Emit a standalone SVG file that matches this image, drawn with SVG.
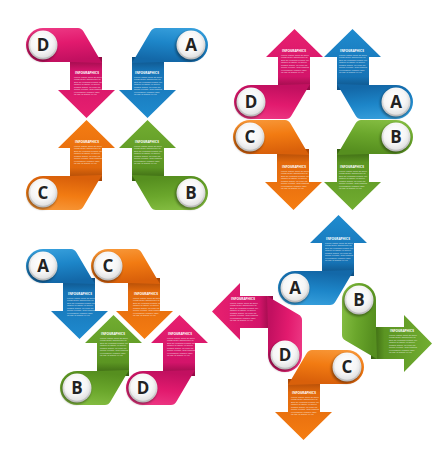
<svg xmlns="http://www.w3.org/2000/svg" width="443" height="450" viewBox="0 0 443 450">
<style>
.lt{font-family:"Open Sans","Liberation Sans",sans-serif;font-weight:700;font-size:17px;fill:#222;text-anchor:middle}
.hd{font-family:"Open Sans","Liberation Sans",sans-serif;font-weight:700;font-size:3.2px;fill:#fff;text-anchor:middle}
.bd{font-family:"Liberation Sans",sans-serif;font-size:2.3px;fill:#fff;fill-opacity:.8}
.ring{fill:url(#ring)}
.inner{fill:url(#inner)}
.sh{fill:#000;opacity:.35;filter:url(#blur)}
</style>
<defs>
<filter id="blur" x="-50%" y="-50%" width="200%" height="200%"><feGaussianBlur stdDeviation="1.3"/></filter>
<linearGradient id="ring" x1="0" y1="0" x2="0" y2="1"><stop offset="0" stop-color="#fafafa"/><stop offset="1" stop-color="#b9b9b9"/></linearGradient>
<radialGradient id="inner" cx=".45" cy=".35" r=".7"><stop offset="0" stop-color="#ffffff"/><stop offset=".6" stop-color="#f6f6f6"/><stop offset="1" stop-color="#dcdcdc"/></radialGradient>
<linearGradient id="bPink" x1="0" y1="0" x2="0.2" y2="1"><stop offset="0" stop-color="#ee3b86"/><stop offset=".5" stop-color="#e21a6e"/><stop offset="1" stop-color="#c21060"/></linearGradient>
<linearGradient id="sPink" x1="0" y1="0" x2="0" y2="1"><stop offset="0" stop-color="#8e0a42"/><stop offset=".22" stop-color="#d3146a"/><stop offset="1" stop-color="#e8206f"/></linearGradient>
<linearGradient id="bBlue" x1="0" y1="0" x2="0.2" y2="1"><stop offset="0" stop-color="#3aa2de"/><stop offset=".5" stop-color="#1d86c9"/><stop offset="1" stop-color="#1368a8"/></linearGradient>
<linearGradient id="sBlue" x1="0" y1="0" x2="0" y2="1"><stop offset="0" stop-color="#0d4d80"/><stop offset=".22" stop-color="#1673b5"/><stop offset="1" stop-color="#1f8bcf"/></linearGradient>
<linearGradient id="bOrange" x1="0" y1="0" x2="0.2" y2="1"><stop offset="0" stop-color="#f89a3c"/><stop offset=".5" stop-color="#f27b12"/><stop offset="1" stop-color="#d9600a"/></linearGradient>
<linearGradient id="sOrange" x1="0" y1="0" x2="0" y2="1"><stop offset="0" stop-color="#a34406"/><stop offset=".22" stop-color="#e2690c"/><stop offset="1" stop-color="#f57d12"/></linearGradient>
<linearGradient id="bGreen" x1="0" y1="0" x2="0.2" y2="1"><stop offset="0" stop-color="#88c045"/><stop offset=".5" stop-color="#6ba72c"/><stop offset="1" stop-color="#568f1f"/></linearGradient>
<linearGradient id="sGreen" x1="0" y1="0" x2="0" y2="1"><stop offset="0" stop-color="#365f10"/><stop offset=".22" stop-color="#5b9522"/><stop offset="1" stop-color="#72ad31"/></linearGradient>
<path id="b44" d="M0,-17 L35,-17 Q38.5,-17 40.5,-13.5 L59,18 L27,17 L0,17 A17,17 0 0 1 0,-17 Z"/>
<path id="s44" d="M27,12 L59,12 L59,45 L72,45 L43.5,73 L15,45 L27,45 Z"/>
<path id="b37" d="M0,-17 L28,-17 Q31.5,-17 33.5,-13.5 L52,18 L20,17 L0,17 A17,17 0 0 1 0,-17 Z"/>
<path id="s37" d="M20,12 L52,12 L52,45 L65,45 L36.5,73 L8,45 L20,45 Z"/>
</defs>
<rect width="443" height="450" fill="#fff"/>

<g id="c1-D">
<use href="#s44" fill="url(#sPink)" transform="translate(43,45)"/>
<use href="#b44" fill="url(#bPink)" transform="translate(43,45)"/>
<circle class="sh" cx="42" cy="46.5" r="15"/><circle class="ring" cx="43" cy="45" r="14.5"/><circle class="inner" cx="43" cy="45" r="12.8"/>
<text class="lt" x="43" y="51">D</text>
<text class="hd" x="87" y="74">INFOGRAPHICS</text>
<text class="bd"><tspan x="74" y="77.5">Lorem ipsum dolor sit amet,</tspan><tspan x="74" y="80">consectetur adipiscing elit.</tspan><tspan x="74" y="82.5">Sed do eiusmod tempor inc-</tspan><tspan x="74" y="85">ididunt ut labore et dolore</tspan><tspan x="74" y="87.5">magna aliqua. Ut enim ad</tspan><tspan x="74" y="90">minim veniam, quis nostrud</tspan><tspan x="74" y="92.5">exercitation ullamco labo-</tspan><tspan x="74" y="95">ris nisi ut aliquip ex ea.</tspan></text>
</g>

<g id="c1-A">
<use href="#s44" fill="url(#sBlue)" transform="translate(191,45) scale(-1,1)"/>
<use href="#b44" fill="url(#bBlue)" transform="translate(191,45) scale(-1,1)"/>
<circle class="sh" cx="190" cy="46.5" r="15"/><circle class="ring" cx="191" cy="45" r="14.5"/><circle class="inner" cx="191" cy="45" r="12.8"/>
<text class="lt" x="191" y="51">A</text>
<text class="hd" x="147" y="74">INFOGRAPHICS</text>
<text class="bd"><tspan x="134" y="77.5">Lorem ipsum dolor sit amet,</tspan><tspan x="134" y="80">consectetur adipiscing elit.</tspan><tspan x="134" y="82.5">Sed do eiusmod tempor inc-</tspan><tspan x="134" y="85">ididunt ut labore et dolore</tspan><tspan x="134" y="87.5">magna aliqua. Ut enim ad</tspan><tspan x="134" y="90">minim veniam, quis nostrud</tspan><tspan x="134" y="92.5">exercitation ullamco labo-</tspan><tspan x="134" y="95">ris nisi ut aliquip ex ea.</tspan></text>
</g>

<g id="c1-C">
<use href="#s44" fill="url(#sOrange)" transform="translate(43,193) scale(1,-1)"/>
<use href="#b44" fill="url(#bOrange)" transform="translate(43,193) scale(1,-1)"/>
<circle class="sh" cx="42" cy="194.5" r="15"/><circle class="ring" cx="43" cy="193" r="14.5"/><circle class="inner" cx="43" cy="193" r="12.8"/>
<text class="lt" x="43" y="199">C</text>
<text class="hd" x="87" y="143">INFOGRAPHICS</text>
<text class="bd"><tspan x="74" y="146.5">Lorem ipsum dolor sit amet,</tspan><tspan x="74" y="149">consectetur adipiscing elit.</tspan><tspan x="74" y="151.5">Sed do eiusmod tempor inc-</tspan><tspan x="74" y="154">ididunt ut labore et dolore</tspan><tspan x="74" y="156.5">magna aliqua. Ut enim ad</tspan><tspan x="74" y="159">minim veniam, quis nostrud</tspan><tspan x="74" y="161.5">exercitation ullamco labo-</tspan><tspan x="74" y="164">ris nisi ut aliquip ex ea.</tspan></text>
</g>

<g id="c1-B">
<use href="#s44" fill="url(#sGreen)" transform="translate(191,193) scale(-1,-1)"/>
<use href="#b44" fill="url(#bGreen)" transform="translate(191,193) scale(-1,-1)"/>
<circle class="sh" cx="190" cy="194.5" r="15"/><circle class="ring" cx="191" cy="193" r="14.5"/><circle class="inner" cx="191" cy="193" r="12.8"/>
<text class="lt" x="191" y="199">B</text>
<text class="hd" x="147" y="143">INFOGRAPHICS</text>
<text class="bd"><tspan x="134" y="146.5">Lorem ipsum dolor sit amet,</tspan><tspan x="134" y="149">consectetur adipiscing elit.</tspan><tspan x="134" y="151.5">Sed do eiusmod tempor inc-</tspan><tspan x="134" y="154">ididunt ut labore et dolore</tspan><tspan x="134" y="156.5">magna aliqua. Ut enim ad</tspan><tspan x="134" y="159">minim veniam, quis nostrud</tspan><tspan x="134" y="161.5">exercitation ullamco labo-</tspan><tspan x="134" y="164">ris nisi ut aliquip ex ea.</tspan></text>
</g>

<g id="c2-D">
<use href="#s44" fill="url(#sPink)" transform="translate(251,102) scale(1,-1)"/>
<use href="#b44" fill="url(#bPink)" transform="translate(251,102) scale(1,-1)"/>
<circle class="sh" cx="250" cy="103.5" r="15"/><circle class="ring" cx="251" cy="102" r="14.5"/><circle class="inner" cx="251" cy="102" r="12.8"/>
<text class="lt" x="251" y="108">D</text>
<text class="hd" x="294" y="52">INFOGRAPHICS</text>
<text class="bd"><tspan x="281" y="55.5">Lorem ipsum dolor sit amet,</tspan><tspan x="281" y="58">consectetur adipiscing elit.</tspan><tspan x="281" y="60.5">Sed do eiusmod tempor inc-</tspan><tspan x="281" y="63">ididunt ut labore et dolore</tspan><tspan x="281" y="65.5">magna aliqua. Ut enim ad</tspan><tspan x="281" y="68">minim veniam, quis nostrud</tspan><tspan x="281" y="70.5">exercitation ullamco labo-</tspan><tspan x="281" y="73">ris nisi ut aliquip ex ea.</tspan></text>
</g>

<g id="c2-A">
<use href="#s44" fill="url(#sBlue)" transform="translate(396,102) scale(-1,-1)"/>
<use href="#b44" fill="url(#bBlue)" transform="translate(396,102) scale(-1,-1)"/>
<circle class="sh" cx="395" cy="103.5" r="15"/><circle class="ring" cx="396" cy="102" r="14.5"/><circle class="inner" cx="396" cy="102" r="12.8"/>
<text class="lt" x="396" y="108">A</text>
<text class="hd" x="352" y="52">INFOGRAPHICS</text>
<text class="bd"><tspan x="339" y="55.5">Lorem ipsum dolor sit amet,</tspan><tspan x="339" y="58">consectetur adipiscing elit.</tspan><tspan x="339" y="60.5">Sed do eiusmod tempor inc-</tspan><tspan x="339" y="63">ididunt ut labore et dolore</tspan><tspan x="339" y="65.5">magna aliqua. Ut enim ad</tspan><tspan x="339" y="68">minim veniam, quis nostrud</tspan><tspan x="339" y="70.5">exercitation ullamco labo-</tspan><tspan x="339" y="73">ris nisi ut aliquip ex ea.</tspan></text>
</g>

<g id="c2-C">
<use href="#s44" fill="url(#sOrange)" transform="translate(250,137)"/>
<use href="#b44" fill="url(#bOrange)" transform="translate(250,137)"/>
<circle class="sh" cx="249" cy="138.5" r="15"/><circle class="ring" cx="250" cy="137" r="14.5"/><circle class="inner" cx="250" cy="137" r="12.8"/>
<text class="lt" x="250" y="143">C</text>
<text class="hd" x="294" y="168">INFOGRAPHICS</text>
<text class="bd"><tspan x="281" y="171.5">Lorem ipsum dolor sit amet,</tspan><tspan x="281" y="174">consectetur adipiscing elit.</tspan><tspan x="281" y="176.5">Sed do eiusmod tempor inc-</tspan><tspan x="281" y="179">ididunt ut labore et dolore</tspan><tspan x="281" y="181.5">magna aliqua. Ut enim ad</tspan><tspan x="281" y="184">minim veniam, quis nostrud</tspan><tspan x="281" y="186.5">exercitation ullamco labo-</tspan><tspan x="281" y="189">ris nisi ut aliquip ex ea.</tspan></text>
</g>

<g id="c2-B">
<use href="#s44" fill="url(#sGreen)" transform="translate(396,137) scale(-1,1)"/>
<use href="#b44" fill="url(#bGreen)" transform="translate(396,137) scale(-1,1)"/>
<circle class="sh" cx="395" cy="138.5" r="15"/><circle class="ring" cx="396" cy="137" r="14.5"/><circle class="inner" cx="396" cy="137" r="12.8"/>
<text class="lt" x="396" y="143">B</text>
<text class="hd" x="352" y="168">INFOGRAPHICS</text>
<text class="bd"><tspan x="339" y="171.5">Lorem ipsum dolor sit amet,</tspan><tspan x="339" y="174">consectetur adipiscing elit.</tspan><tspan x="339" y="176.5">Sed do eiusmod tempor inc-</tspan><tspan x="339" y="179">ididunt ut labore et dolore</tspan><tspan x="339" y="181.5">magna aliqua. Ut enim ad</tspan><tspan x="339" y="184">minim veniam, quis nostrud</tspan><tspan x="339" y="186.5">exercitation ullamco labo-</tspan><tspan x="339" y="189">ris nisi ut aliquip ex ea.</tspan></text>
</g>

<g id="c3-A">
<use href="#s37" fill="url(#sBlue)" transform="translate(43,266)"/>
<use href="#b37" fill="url(#bBlue)" transform="translate(43,266)"/>
<circle class="sh" cx="42" cy="267.5" r="15"/><circle class="ring" cx="43" cy="266" r="14.5"/><circle class="inner" cx="43" cy="266" r="12.8"/>
<text class="lt" x="43" y="272">A</text>
<text class="hd" x="80" y="295">INFOGRAPHICS</text>
<text class="bd"><tspan x="67" y="298.5">Lorem ipsum dolor sit amet,</tspan><tspan x="67" y="301">consectetur adipiscing elit.</tspan><tspan x="67" y="303.5">Sed do eiusmod tempor inc-</tspan><tspan x="67" y="306">ididunt ut labore et dolore</tspan><tspan x="67" y="308.5">magna aliqua. Ut enim ad</tspan><tspan x="67" y="311">minim veniam, quis nostrud</tspan><tspan x="67" y="313.5">exercitation ullamco labo-</tspan><tspan x="67" y="316">ris nisi ut aliquip ex ea.</tspan></text>
</g>

<g id="c3-C">
<use href="#s37" fill="url(#sOrange)" transform="translate(108,266)"/>
<use href="#b37" fill="url(#bOrange)" transform="translate(108,266)"/>
<circle class="sh" cx="107" cy="267.5" r="15"/><circle class="ring" cx="108" cy="266" r="14.5"/><circle class="inner" cx="108" cy="266" r="12.8"/>
<text class="lt" x="108" y="272">C</text>
<text class="hd" x="146" y="295">INFOGRAPHICS</text>
<text class="bd"><tspan x="133" y="298.5">Lorem ipsum dolor sit amet,</tspan><tspan x="133" y="301">consectetur adipiscing elit.</tspan><tspan x="133" y="303.5">Sed do eiusmod tempor inc-</tspan><tspan x="133" y="306">ididunt ut labore et dolore</tspan><tspan x="133" y="308.5">magna aliqua. Ut enim ad</tspan><tspan x="133" y="311">minim veniam, quis nostrud</tspan><tspan x="133" y="313.5">exercitation ullamco labo-</tspan><tspan x="133" y="316">ris nisi ut aliquip ex ea.</tspan></text>
</g>

<g id="c3-B">
<use href="#s37" fill="url(#sGreen)" transform="translate(77,388) scale(1,-1)"/>
<use href="#b37" fill="url(#bGreen)" transform="translate(77,388) scale(1,-1)"/>
<circle class="sh" cx="76" cy="389.5" r="15"/><circle class="ring" cx="77" cy="388" r="14.5"/><circle class="inner" cx="77" cy="388" r="12.8"/>
<text class="lt" x="77" y="394">B</text>
<text class="hd" x="113" y="335">INFOGRAPHICS</text>
<text class="bd"><tspan x="100" y="338.5">Lorem ipsum dolor sit amet,</tspan><tspan x="100" y="341">consectetur adipiscing elit.</tspan><tspan x="100" y="343.5">Sed do eiusmod tempor inc-</tspan><tspan x="100" y="346">ididunt ut labore et dolore</tspan><tspan x="100" y="348.5">magna aliqua. Ut enim ad</tspan><tspan x="100" y="351">minim veniam, quis nostrud</tspan><tspan x="100" y="353.5">exercitation ullamco labo-</tspan><tspan x="100" y="356">ris nisi ut aliquip ex ea.</tspan></text>
</g>

<g id="c3-D">
<use href="#s37" fill="url(#sPink)" transform="translate(143,388) scale(1,-1)"/>
<use href="#b37" fill="url(#bPink)" transform="translate(143,388) scale(1,-1)"/>
<circle class="sh" cx="142" cy="389.5" r="15"/><circle class="ring" cx="143" cy="388" r="14.5"/><circle class="inner" cx="143" cy="388" r="12.8"/>
<text class="lt" x="143" y="394">D</text>
<text class="hd" x="180" y="335">INFOGRAPHICS</text>
<text class="bd"><tspan x="167" y="338.5">Lorem ipsum dolor sit amet,</tspan><tspan x="167" y="341">consectetur adipiscing elit.</tspan><tspan x="167" y="343.5">Sed do eiusmod tempor inc-</tspan><tspan x="167" y="346">ididunt ut labore et dolore</tspan><tspan x="167" y="348.5">magna aliqua. Ut enim ad</tspan><tspan x="167" y="351">minim veniam, quis nostrud</tspan><tspan x="167" y="353.5">exercitation ullamco labo-</tspan><tspan x="167" y="356">ris nisi ut aliquip ex ea.</tspan></text>
</g>

<g id="c4-A">
<use href="#s44" fill="url(#sBlue)" transform="translate(295,288) scale(1,-1)"/>
<use href="#b44" fill="url(#bBlue)" transform="translate(295,288) scale(1,-1)"/>
<circle class="sh" cx="294" cy="289.5" r="15"/><circle class="ring" cx="295" cy="288" r="14.5"/><circle class="inner" cx="295" cy="288" r="12.8"/>
<text class="lt" x="295" y="294">A</text>
<text class="hd" x="338" y="240">INFOGRAPHICS</text>
<text class="bd"><tspan x="325" y="243.5">Lorem ipsum dolor sit amet,</tspan><tspan x="325" y="246">consectetur adipiscing elit.</tspan><tspan x="325" y="248.5">Sed do eiusmod tempor inc-</tspan><tspan x="325" y="251">ididunt ut labore et dolore</tspan><tspan x="325" y="253.5">magna aliqua. Ut enim ad</tspan><tspan x="325" y="256">minim veniam, quis nostrud</tspan><tspan x="325" y="258.5">exercitation ullamco labo-</tspan><tspan x="325" y="261">ris nisi ut aliquip ex ea.</tspan></text>
</g>

<g id="c4-D">
<use href="#s44" fill="url(#sPink)" transform="matrix(0,-1,-1,0,285,355)"/>
<use href="#b44" fill="url(#bPink)" transform="matrix(0,-1,-1,0,285,355)"/>
<circle class="sh" cx="284" cy="356.5" r="15"/><circle class="ring" cx="285" cy="355" r="14.5"/><circle class="inner" cx="285" cy="355" r="12.8"/>
<text class="lt" x="285" y="361">D</text>
<text class="hd" x="243" y="300">INFOGRAPHICS</text>
<text class="bd"><tspan x="230" y="303.5">Lorem ipsum dolor sit amet,</tspan><tspan x="230" y="306">consectetur adipiscing elit.</tspan><tspan x="230" y="308.5">Sed do eiusmod tempor inc-</tspan><tspan x="230" y="311">ididunt ut labore et dolore</tspan><tspan x="230" y="313.5">magna aliqua. Ut enim ad</tspan><tspan x="230" y="316">minim veniam, quis nostrud</tspan><tspan x="230" y="318.5">exercitation ullamco labo-</tspan><tspan x="230" y="321">ris nisi ut aliquip ex ea.</tspan></text>
</g>

<g id="c4-C">
<use href="#s44" fill="url(#sOrange)" transform="translate(347,367) scale(-1,1)"/>
<use href="#b44" fill="url(#bOrange)" transform="translate(347,367) scale(-1,1)"/>
<circle class="sh" cx="346" cy="368.5" r="15"/><circle class="ring" cx="347" cy="367" r="14.5"/><circle class="inner" cx="347" cy="367" r="12.8"/>
<text class="lt" x="347" y="373">C</text>
<text class="hd" x="304" y="394">INFOGRAPHICS</text>
<text class="bd"><tspan x="291" y="397.5">Lorem ipsum dolor sit amet,</tspan><tspan x="291" y="400">consectetur adipiscing elit.</tspan><tspan x="291" y="402.5">Sed do eiusmod tempor inc-</tspan><tspan x="291" y="405">ididunt ut labore et dolore</tspan><tspan x="291" y="407.5">magna aliqua. Ut enim ad</tspan><tspan x="291" y="410">minim veniam, quis nostrud</tspan><tspan x="291" y="412.5">exercitation ullamco labo-</tspan><tspan x="291" y="415">ris nisi ut aliquip ex ea.</tspan></text>
</g>

<g id="c4-B">
<use href="#s44" fill="url(#sGreen)" transform="matrix(0,1,1,0,359,300)"/>
<use href="#b44" fill="url(#bGreen)" transform="matrix(0,1,1,0,359,300)"/>
<circle class="sh" cx="358" cy="301.5" r="15"/><circle class="ring" cx="359" cy="300" r="14.5"/><circle class="inner" cx="359" cy="300" r="12.8"/>
<text class="lt" x="359" y="306">B</text>
<text class="hd" x="402" y="332">INFOGRAPHICS</text>
<text class="bd"><tspan x="389" y="335.5">Lorem ipsum dolor sit amet,</tspan><tspan x="389" y="338">consectetur adipiscing elit.</tspan><tspan x="389" y="340.5">Sed do eiusmod tempor inc-</tspan><tspan x="389" y="343">ididunt ut labore et dolore</tspan><tspan x="389" y="345.5">magna aliqua. Ut enim ad</tspan><tspan x="389" y="348">minim veniam, quis nostrud</tspan><tspan x="389" y="350.5">exercitation ullamco labo-</tspan><tspan x="389" y="353">ris nisi ut aliquip ex ea.</tspan></text>
</g>

<g id="connectors"></g>
</svg>
